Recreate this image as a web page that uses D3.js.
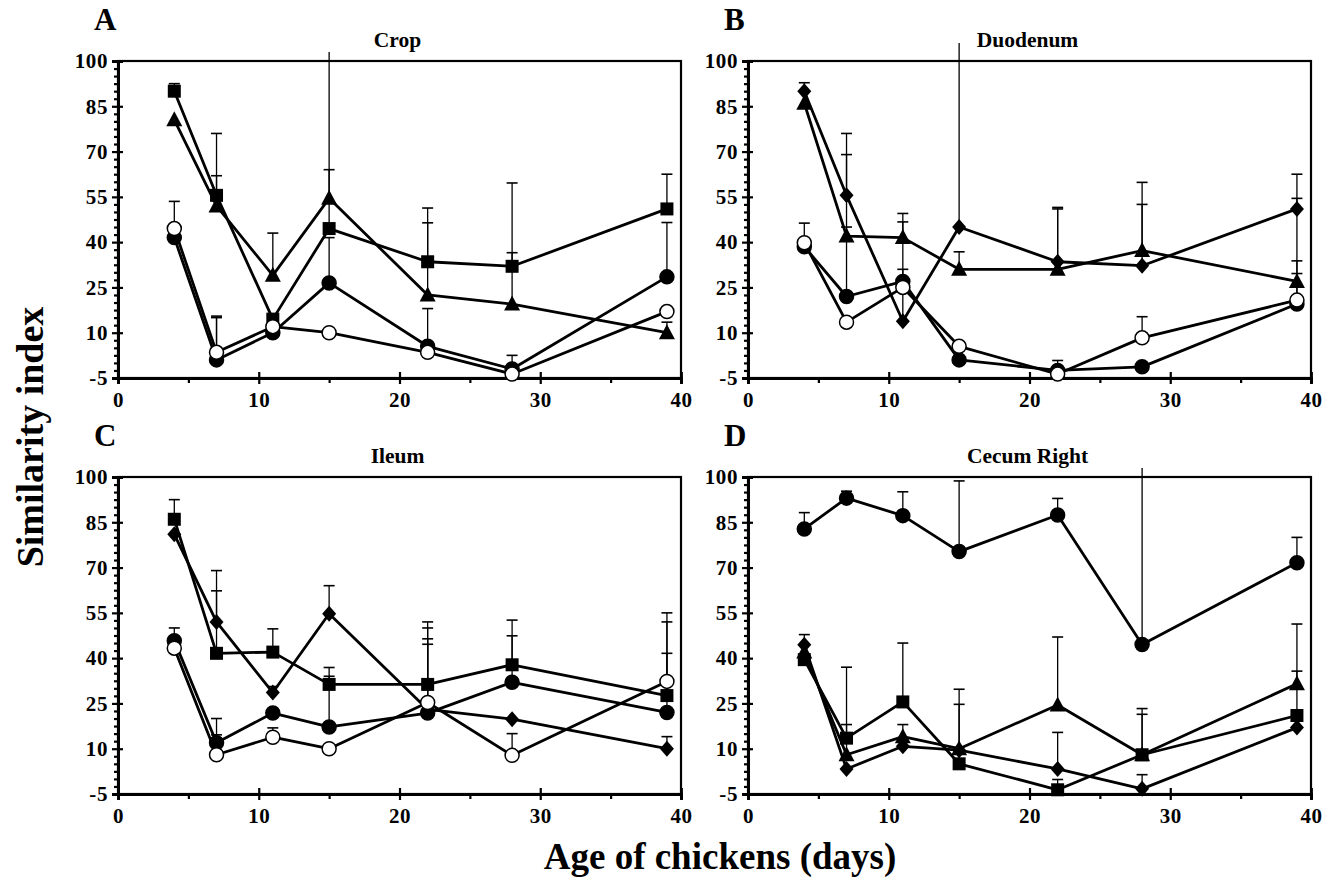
<!DOCTYPE html>
<html>
<head>
<meta charset="utf-8">
<script src="https://cdn.jsdelivr.net/npm/d3@7"></script>
<style>
body{margin:0;background:#fff}
svg{display:block;font-family:"Liberation Serif","Times New Roman",serif;font-weight:bold}
</style>
</head>
<body>
<svg id="chart" width="1324" height="877"></svg>
<script>
// ages sampled (days)
const ages = [4, 7, 11, 15, 22, 28, 39];
const yTicks = [-5, 10, 25, 40, 55, 70, 85, 100];
const xTicks = [0, 10, 20, 30, 40];

// null = no error bar drawn; >100 = bar runs off the top (no cap)
// A - Crop
const cropSquare = [90, 55.5, 14.5, 44.5, 33.5, 32, 51];
const cropSquareHi = [92.5, 76, null, 103, 51.3, 59.6, 62.5];
const cropTriangle = [80.5, 52, 29, 54.5, 22.5, 19.5, 10];
const cropTriangleHi = [null, 62, 43, 64, 46.4, 36.5, 13.5];
const cropFilled = [41.5, 1, 10, 26.5, 5.5, -2, 28.5];
const cropFilledHi = [null, 15.5, null, 41.5, 18, 2.5, 46.5];
const cropOpen = [44.5, 3.5, 12, 10, 3.5, -3.7, 17];
const cropOpenHi = [53.5, 15, null, null, null, null, null];

// B - Duodenum
const duoDiamond = [90, 55.5, 13.8, 45, 33.5, 32.2, 51];
const duoDiamondHi = [92.8, 76, 31, 106, 51.5, 52.5, 62.5];
const duoTriangle = [86, 42, 41.5, 31, 31, 37.2, 27];
const duoTriangleHi = [null, 69, 49.5, 36.8, 51, 59.8, 29.6];
const duoFilled = [38.5, 22, 27, 1, -2.5, -1.3, 19.5];
const duoFilledHi = [46.3, 45, 46.7, null, 0.8, null, 54.5];
const duoOpen = [39.8, 13.5, 25, 5.5, -3.7, 8.3, 20.8];
const duoOpenHi = [null, null, null, null, null, 15.3, 33.8];

// C - Ileum
const ileSquare = [86, 41.6, 42, 31.3, 31.3, 37.8, 27.6];
const ileSquareHi = [92.5, 62.3, 49.7, 36.9, 52, 52.6, 52];
const ileDiamond = [81, 52, 28.6, 54.7, 23, 19.8, 10];
const ileDiamondHi = [null, 69, 30.6, 64, 50, null, 14];
const ileFilled = [45.8, 12, 21.8, 17.2, 21.8, 32, 22];
const ileFilledHi = [50, 20, null, 34, 46.4, 47.4, 41.6];
const ileOpen = [43.3, 8, 13.8, 10, 25.3, 7.8, 32.3];
const ileOpenHi = [null, 14.6, 16.9, null, 44.6, 15, 55];

// D - Cecum Right
const cecFilled = [82.8, 93, 87.2, 75.3, 87.4, 44.5, 71.6];
const cecFilledHi = [88.2, 95.3, 95.1, 98.7, 92.9, 103, 80];
const cecTriangle = [42, 8, 14, 10, 24.5, 8, 31.5];
const cecTriangleHi = [null, 18, 18, 24.7, 47, 23.3, 51.3];
const cecSquare = [39.5, 13.5, 25.5, 5, -3.6, 8, 21];
const cecSquareHi = [null, 37, 45, 29.7, -0.2, 21.4, 35.7];
const cecDiamond = [44.4, 3.3, 10.8, 9.5, 3.3, -3.3, 17];
const cecDiamondHi = [47.8, null, null, null, 15.4, 1.4, null];

const panels = [
  {letter: "A", title: "Crop", left: 118, right: 681, top: 61, bottom: 378,
   series: [["square", cropSquare, cropSquareHi], ["triangle", cropTriangle, cropTriangleHi],
            ["filled", cropFilled, cropFilledHi], ["open", cropOpen, cropOpenHi]]},
  {letter: "B", title: "Duodenum", left: 748, right: 1311, top: 61, bottom: 378,
   series: [["diamond", duoDiamond, duoDiamondHi], ["triangle", duoTriangle, duoTriangleHi],
            ["filled", duoFilled, duoFilledHi], ["open", duoOpen, duoOpenHi]]},
  {letter: "C", title: "Ileum", left: 118, right: 681, top: 477, bottom: 794,
   series: [["square", ileSquare, ileSquareHi], ["diamond", ileDiamond, ileDiamondHi],
            ["filled", ileFilled, ileFilledHi], ["open", ileOpen, ileOpenHi]]},
  {letter: "D", title: "Cecum Right", left: 748, right: 1311, top: 477, bottom: 794,
   series: [["filled", cecFilled, cecFilledHi], ["triangle", cecTriangle, cecTriangleHi],
            ["square", cecSquare, cecSquareHi], ["diamond", cecDiamond, cecDiamondHi]]}
];

const svg = d3.select("#chart");

function marker(g, shape, cx, cy) {
  if (shape == "filled" || shape == "open") {
    g.append("circle").attr("cx", cx).attr("cy", cy).attr("r", 7)
      .attr("fill", shape == "open" ? "#fff" : "#000")
      .attr("stroke", "#000").attr("stroke-width", 1.5);
  } else if (shape == "square") {
    g.append("rect").attr("x", cx - 6.5).attr("y", cy - 6.5).attr("width", 13).attr("height", 13)
      .attr("fill", "#000");
  } else if (shape == "triangle") {
    g.append("path").attr("d", `M${cx},${cy - 8.5}L${cx + 8},${cy + 6.5}L${cx - 8},${cy + 6.5}Z`)
      .attr("fill", "#000");
  } else {
    g.append("path").attr("d", `M${cx},${cy - 8}L${cx + 7},${cy}L${cx},${cy + 8}L${cx - 7},${cy}Z`)
      .attr("fill", "#000");
  }
}

panels.forEach(p => {
  const x = d3.scaleLinear().domain([0, 40]).range([p.left, p.right]);
  const y = d3.scaleLinear().domain([-5, 100]).range([p.bottom, p.top]);
  const g = svg.append("g");

  // frame
  g.append("rect").attr("x", p.left).attr("y", p.top)
    .attr("width", p.right - p.left).attr("height", p.bottom - p.top)
    .attr("fill", "none").attr("stroke", "#000").attr("stroke-width", 2.2);

  // y axis: labelled ticks cross the line, minor every 2.5 outward
  const minorY = d3.range(-5, 100.01, 2.5).filter(v => !yTicks.includes(v));
  g.append("g").attr("transform", `translate(${p.left},0)`)
    .call(d3.axisLeft(y).tickValues(minorY).tickSize(4).tickFormat(""));
  g.append("g").attr("transform", `translate(${p.left},0)`)
    .call(d3.axisRight(y).tickValues(yTicks).tickSize(5).tickFormat(""));
  g.append("g").attr("transform", `translate(${p.left},0)`)
    .call(d3.axisLeft(y).tickValues(yTicks).tickSize(6).tickPadding(4).tickFormat(d => String(d)));

  // x axis
  g.append("g").attr("transform", `translate(0,${p.bottom})`)
    .call(d3.axisBottom(x).tickValues([5, 15, 25, 35]).tickSize(5).tickFormat(""));
  g.append("g").attr("transform", `translate(0,${p.bottom})`)
    .call(d3.axisTop(x).tickValues([10, 20, 30]).tickSize(6).tickFormat(""));
  g.append("g").attr("transform", `translate(0,${p.bottom})`)
    .call(d3.axisBottom(x).tickValues(xTicks).tickSize(6).tickPadding(8).tickFormat(d => String(d)));

  g.selectAll(".domain").attr("stroke-width", 2.8);
  g.selectAll(".tick line").attr("stroke-width", 2.2);
  g.selectAll(".tick text").attr("font-size", 21).attr("letter-spacing", 0.6)
    .attr("font-family", "Liberation Serif").attr("font-weight", "bold").attr("fill", "#000");

  // error bars
  p.series.forEach(([shape, vals, hi]) => {
    vals.forEach((v, i) => {
      if (hi[i] == null) return;
      const cx = x(ages[i]);
      g.append("line").attr("x1", cx).attr("x2", cx).attr("y1", y(v)).attr("y2", y(hi[i]))
        .attr("stroke", "#000").attr("stroke-width", 1.3);
      if (hi[i] <= 100)
        g.append("line").attr("x1", cx - 5.5).attr("x2", cx + 5.5).attr("y1", y(hi[i])).attr("y2", y(hi[i]))
          .attr("stroke", "#000").attr("stroke-width", 1.6);
    });
  });

  // series lines
  const line = d3.line().x((d, i) => x(ages[i])).y(d => y(d));
  p.series.forEach(([shape, vals]) => {
    g.append("path").attr("d", line(vals)).attr("fill", "none")
      .attr("stroke", "#000").attr("stroke-width", 2.8).attr("stroke-linejoin", "round");
  });

  // markers
  p.series.forEach(([shape, vals]) => {
    vals.forEach((v, i) => marker(g, shape, x(ages[i]), y(v)));
  });

  // letter and title
  g.append("text").attr("x", p.left - 24).attr("y", p.top - 31)
    .attr("font-size", 31).text(p.letter);
  g.append("text").attr("x", (p.left + p.right) / 2 - 2).attr("y", p.top - 14)
    .attr("text-anchor", "middle").attr("font-size", 21.5).text(p.title);
});

svg.append("text").attr("transform", "translate(43,437) rotate(-90)")
  .attr("text-anchor", "middle").attr("font-size", 38).text("Similarity index");
svg.append("text").attr("x", 720).attr("y", 869)
  .attr("text-anchor", "middle").attr("font-size", 37).text("Age of chickens (days)");
</script>
</body>
</html>
